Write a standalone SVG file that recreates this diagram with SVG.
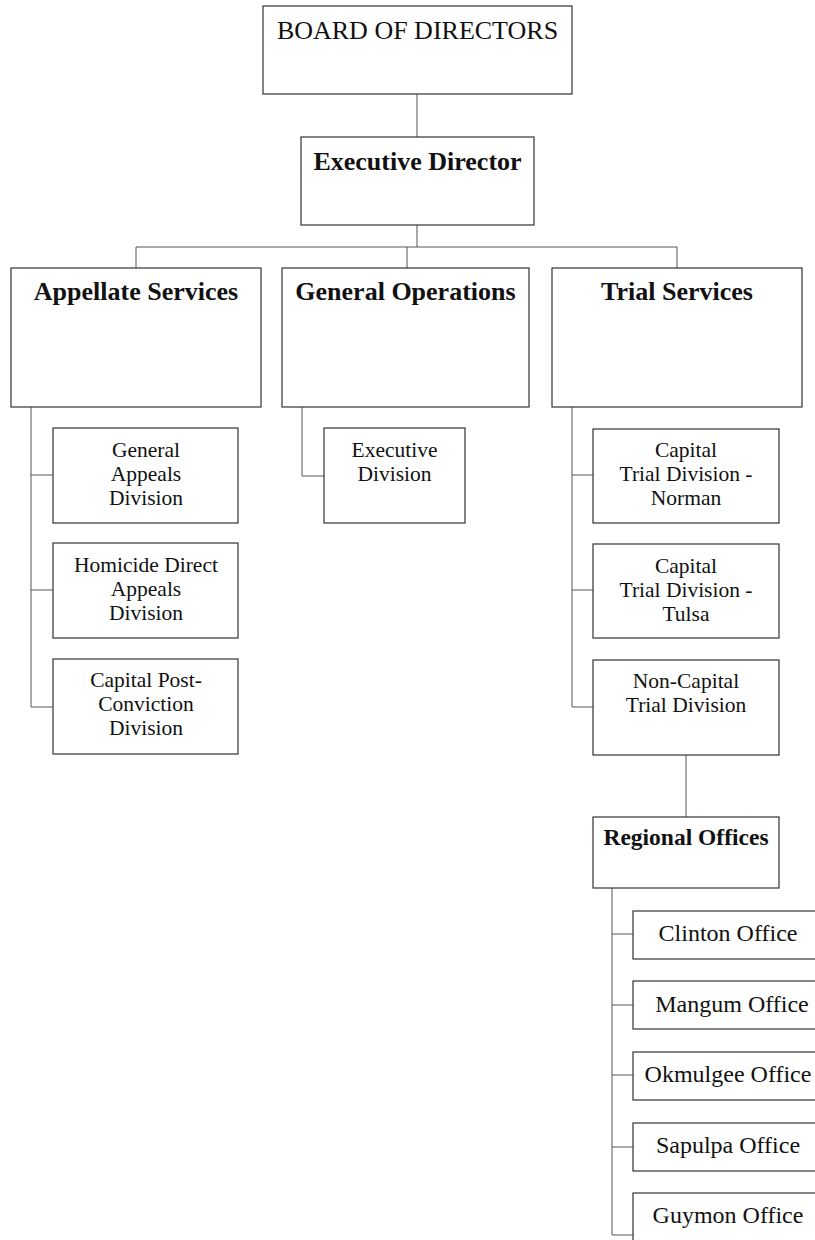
<svg xmlns="http://www.w3.org/2000/svg" width="815" height="1240" viewBox="0 0 815 1240">
<style>
.box{fill:#fff;stroke:#333;stroke-width:1.2}
.ln{fill:none;stroke:#555;stroke-width:1}
text{font-family:"Liberation Serif","Times New Roman",serif;fill:#111;text-anchor:middle}
.h{font-size:26px;font-weight:bold}
.t{font-size:21.5px}
.o{font-size:24px}
.r{font-size:23.5px;font-weight:bold}
</style>
<rect width="815" height="1240" fill="#fff"/>
<g id="connectors">
<path class="ln" d="M417,94V137M417,225V247M136,247H677M136,247V268M407,247V268M677,247V268"/>
<path class="ln" d="M31,407V707M31,475H53M31,590H53M31,707H53"/>
<path class="ln" d="M302,407V476H324"/>
<path class="ln" d="M572,407V707M572,475H593M572,590H593M572,707H593"/>
<path class="ln" d="M686,755V817"/>
<path class="ln" d="M612,888V1235M612,934H633M612,1005H633M612,1075H633M612,1147H633M612,1235H633"/>
</g>
<g id="board"><rect class="box" x="263" y="6" width="309" height="88"/><text x="417.5" y="39" style="font-size:26px">BOARD OF DIRECTORS</text></g>
<g id="exec"><rect class="box" x="301" y="137" width="233" height="88"/><text class="h" x="417.5" y="170">Executive Director</text></g>
<g id="appellate"><rect class="box" x="11" y="268" width="250" height="139"/><text class="h" x="136" y="300">Appellate Services</text></g>
<g id="genops"><rect class="box" x="282" y="268" width="247" height="139"/><text class="h" x="405.5" y="300">General Operations</text></g>
<g id="trial"><rect class="box" x="552" y="268" width="250" height="139"/><text class="h" x="677" y="300">Trial Services</text></g>
<g id="genappeals"><rect class="box" x="53" y="428" width="185" height="95"/><text class="t" x="146" y="457">General</text><text class="t" x="146" y="481">Appeals</text><text class="t" x="146" y="505">Division</text></g>
<g id="homicide"><rect class="box" x="53" y="543" width="185" height="95"/><text class="t" x="146" y="572">Homicide Direct</text><text class="t" x="146" y="596">Appeals</text><text class="t" x="146" y="620">Division</text></g>
<g id="postconv"><rect class="box" x="53" y="659" width="185" height="95"/><text class="t" x="146" y="687">Capital Post-</text><text class="t" x="146" y="711">Conviction</text><text class="t" x="146" y="735">Division</text></g>
<g id="execdiv"><rect class="box" x="324" y="428" width="141" height="95"/><text class="t" x="394.5" y="457">Executive</text><text class="t" x="394.5" y="481">Division</text></g>
<g id="norman"><rect class="box" x="593" y="429" width="186" height="94"/><text class="t" x="686" y="457">Capital</text><text class="t" x="686" y="481">Trial Division -</text><text class="t" x="686" y="505">Norman</text></g>
<g id="tulsa"><rect class="box" x="593" y="544" width="186" height="94"/><text class="t" x="686" y="573">Capital</text><text class="t" x="686" y="597">Trial Division -</text><text class="t" x="686" y="621">Tulsa</text></g>
<g id="noncap"><rect class="box" x="593" y="660" width="186" height="95"/><text class="t" x="686" y="688">Non-Capital</text><text class="t" x="686" y="712">Trial Division</text></g>
<g id="regional"><rect class="box" x="593" y="817" width="186" height="71"/><text class="r" x="686" y="845">Regional Offices</text></g>
<g id="clinton"><rect class="box" x="633" y="911" width="190" height="48"/><text class="o" x="728" y="941">Clinton Office</text></g>
<g id="mangum"><rect class="box" x="633" y="981" width="190" height="48"/><text class="o" x="732" y="1012">Mangum Office</text></g>
<g id="okmulgee"><rect class="box" x="633" y="1052" width="190" height="48"/><text class="o" x="728" y="1082">Okmulgee Office</text></g>
<g id="sapulpa"><rect class="box" x="633" y="1123" width="190" height="48"/><text class="o" x="728" y="1153">Sapulpa Office</text></g>
<g id="guymon"><rect class="box" x="633" y="1193" width="190" height="50"/><text class="o" x="728" y="1223">Guymon Office</text></g>
</svg>
